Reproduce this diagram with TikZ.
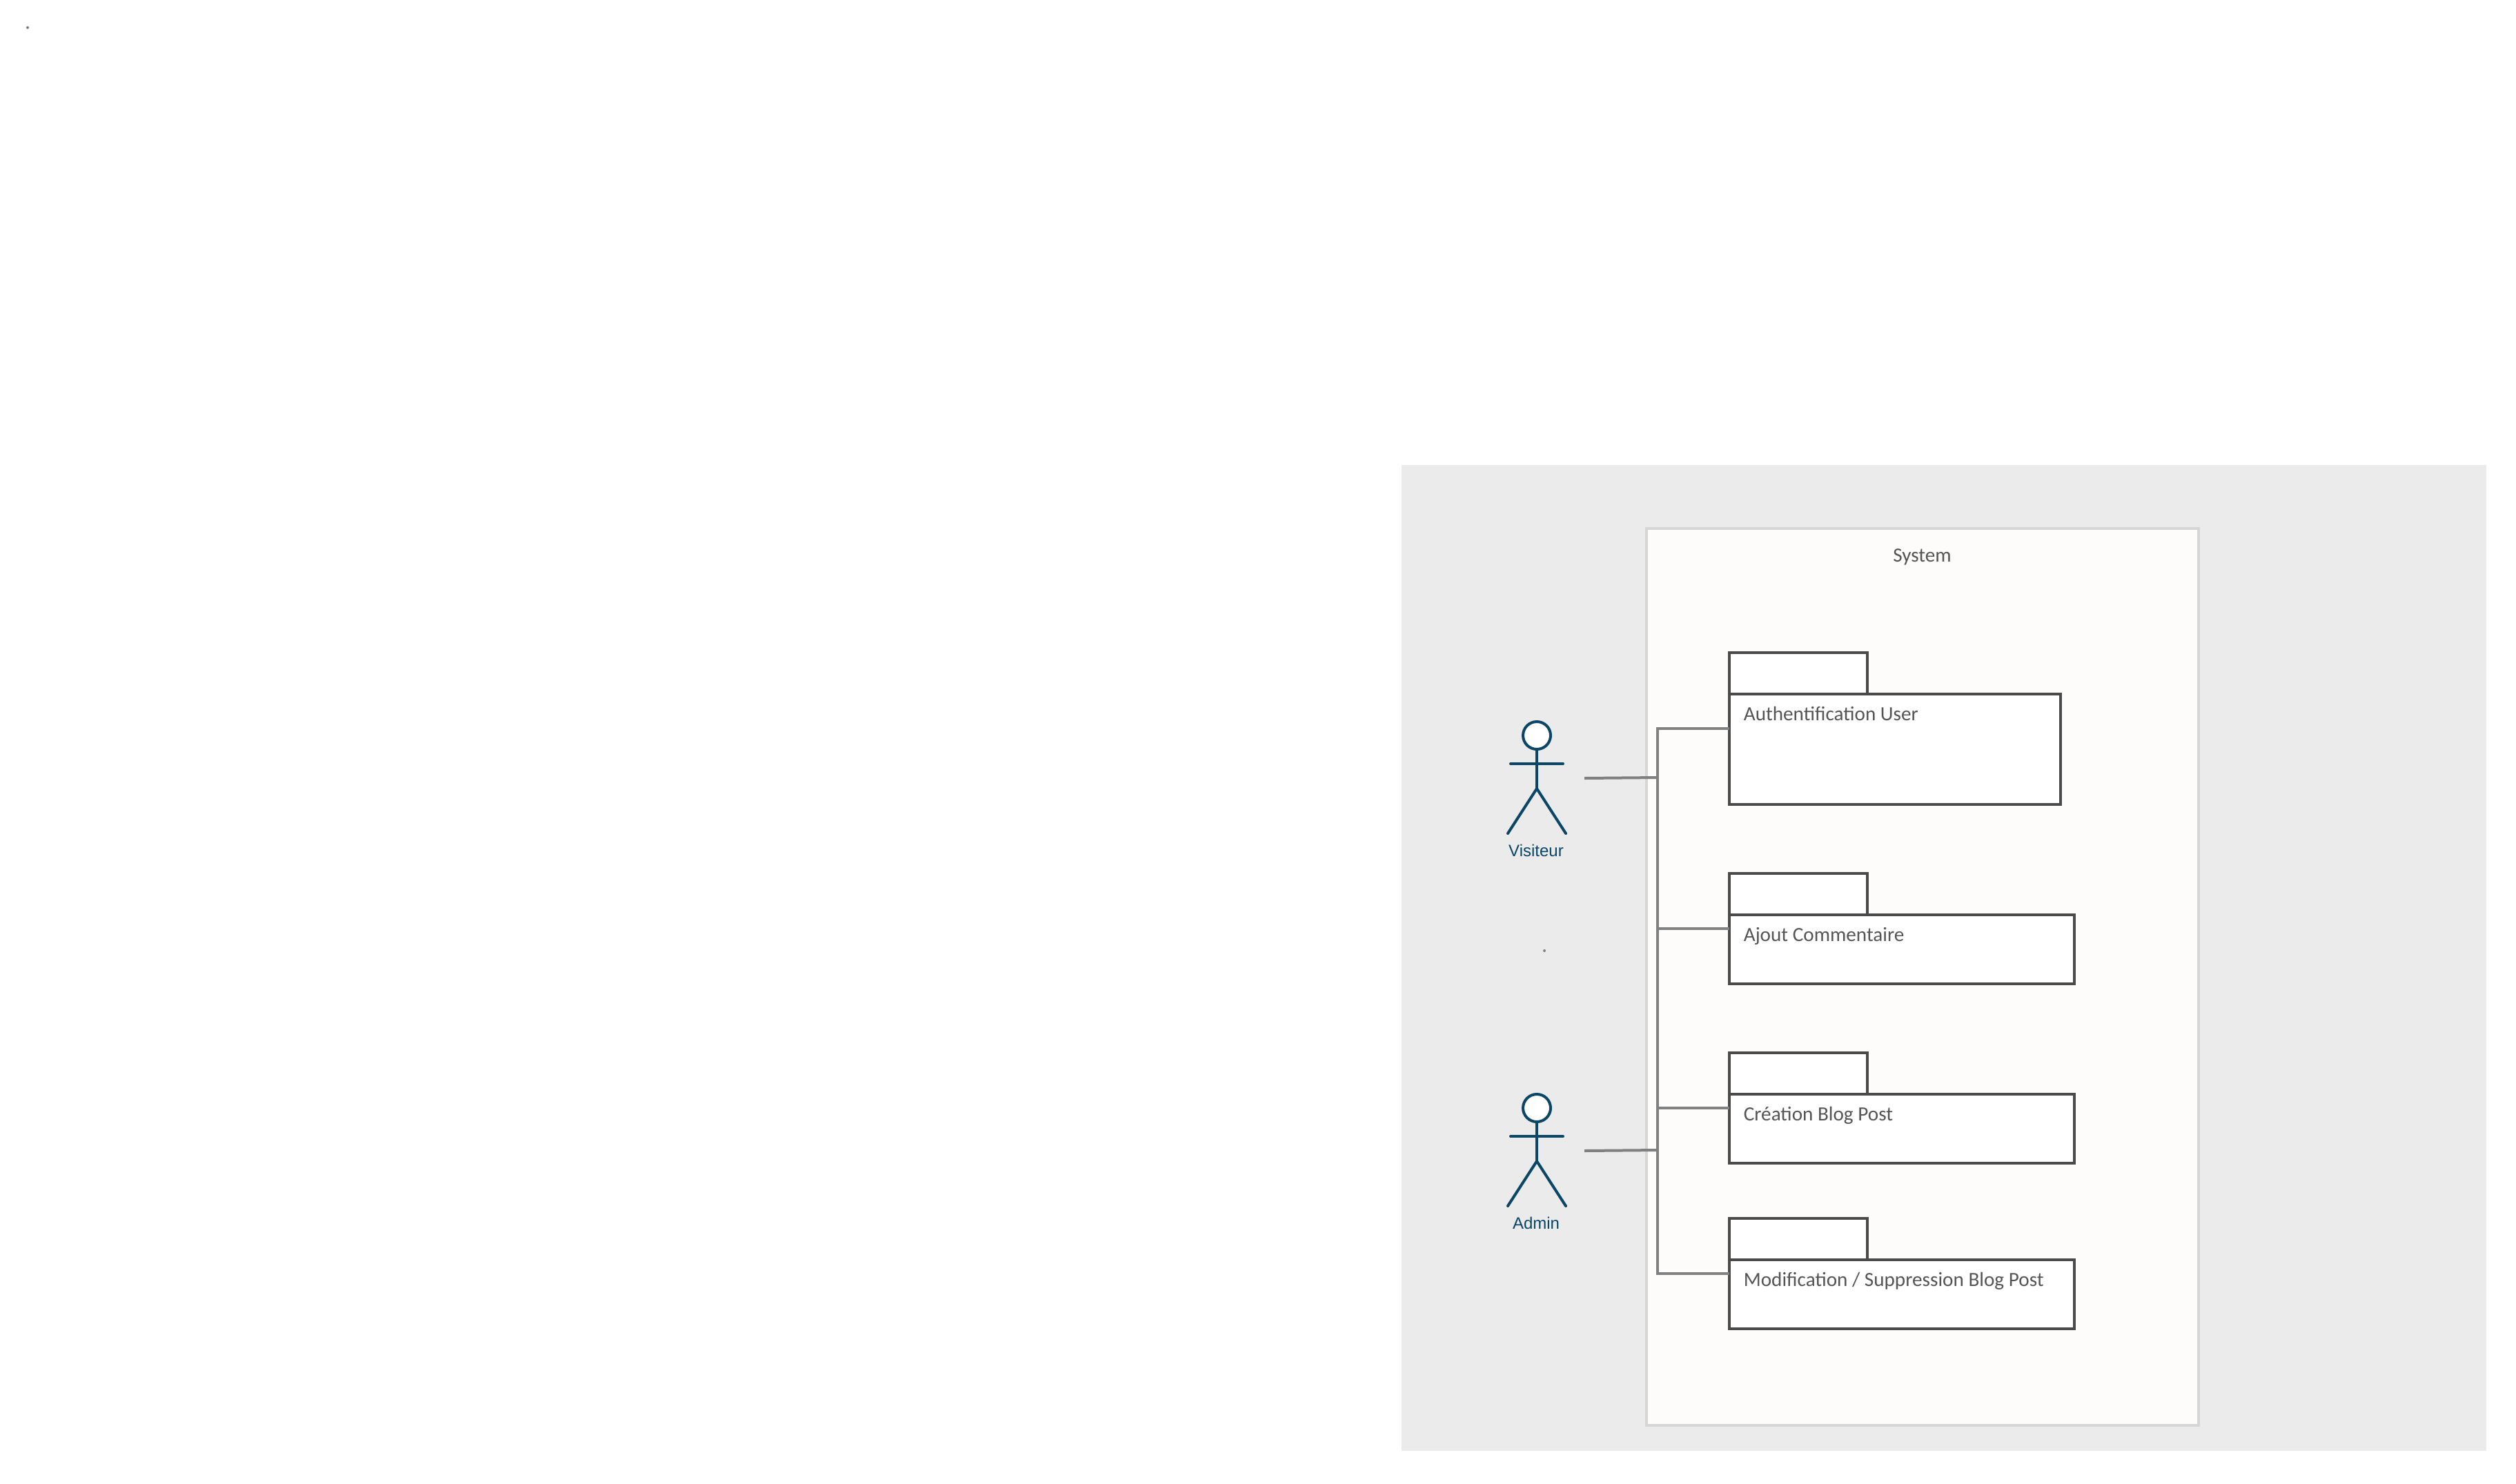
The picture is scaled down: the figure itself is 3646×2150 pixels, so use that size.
\documentclass[tikz,border=0pt]{standalone}
\usepackage{fontspec}
\setmainfont{Carlito}
\newfontfamily\actorfont{Liberation Sans}
\usetikzlibrary{calc}
\definecolor{pagegrey}{HTML}{EBEBEB}
\definecolor{sysfill}{HTML}{FDFCFB}
\definecolor{sysline}{HTML}{D6D6D6}
\definecolor{pkgline}{HTML}{4A4A4A}
\definecolor{pkgink}{HTML}{555555}
\definecolor{connline}{HTML}{808080}
\definecolor{actorblue}{HTML}{0A4666}
\tikzset{
  boxbase/.style={rectangle,draw,line width=1pt,inner sep=0pt,outer sep=0pt,anchor=north west},
  sysbox/.style={boxbase,draw=sysline,fill=sysfill},
  pkgbox/.style={boxbase,draw=pkgline,fill=white},
  pkgtext/.style={anchor=base west,inner sep=0pt,text=pkgink,font=\fontsize{7.3}{9}\selectfont},
  conn/.style={draw=connline,line width=1pt},
  actorline/.style={draw=actorblue,line width=1pt,line cap=round},
  actorname/.style={anchor=base,inner sep=0pt,text=actorblue,font=\actorfont\fontsize{6}{7}\selectfont},
  speck/.style={circle,fill=connline,inner sep=0pt,minimum size=1pt}
}
\begin{document}
\begin{tikzpicture}[x=0.25pt,y=-0.25pt]

    \useasboundingbox (0,0) rectangle (3646,2150);

    % shade region
    \node[rectangle,fill=pagegrey,inner sep=0pt,anchor=north west,minimum width=1572*0.25pt,minimum height=1429*0.25pt] (page) at (2030,673) {};
    \node[speck] (speckA) at (40,40) {};
    \node[speck] (speckB) at (2238,1378) {};

    % system box
    \node[sysbox,minimum width=800*0.25pt,minimum height=1300*0.25pt] (system) at (2386,766) {};
    \node[pkgtext,anchor=base] (systemtext) at (2785.5,814) {System};

    % packages
    \foreach \pkg/\ytab/\wbody/\hbody/\yport/\txt in {
        auth/946/480/160/50/{Authentification User},
        ajout/1266/500/100/20/{Ajout Commentaire},
        creation/1526/500/100/20/{Création Blog Post},
        modif/1766/500/100/20/{Modification / Suppression Blog Post}} {
      \node[pkgbox,minimum width=200*0.25pt,minimum height=60*0.25pt] (\pkg tab) at (2506,\ytab) {};
      \node[pkgbox,minimum width=\wbody*0.25pt,minimum height=\hbody*0.25pt] (\pkg) at (2506,\ytab+60) {};
      \node[pkgtext] (\pkg text) at (2526,\ytab+98) {\txt};
      \coordinate (\pkg port) at (2506,\ytab+60+\yport);
      \coordinate (\pkg spine) at (2402,\ytab+60+\yport);
    }

    % actors
    \foreach \act/\yact/\txt in {visiteur/0/Visiteur,admin/540/Admin} {
      \node[circle,draw=actorblue,fill=white,line width=1pt,inner sep=0pt,outer sep=0pt,minimum size=40*0.25pt] (\act head) at (2227,1066+\yact) {};
      \coordinate (\act hip) at (2227,1143+\yact);
      \coordinate (\act armL) at (2189,1107+\yact);
      \coordinate (\act armR) at (2265,1107+\yact);
      \coordinate (\act footL) at (2185,1208+\yact);
      \coordinate (\act footR) at (2269,1208+\yact);
      \draw[actorline] (\act head.south) -- (\act hip);
      \draw[actorline] (\act armL) -- (\act armR);
      \draw[actorline] (\act footL) -- (\act hip) -- (\act footR);
      \node[actorname] (\act text) at (2226,1241+\yact) {\txt};
      \coordinate (\act start) at (2296,1128+\yact);
      \coordinate (\act spine) at (2402,1127+\yact);
      \draw[conn] (\act start) -- (\act spine);
    }

    % connectors
    \draw[conn] (authport) -- (authspine) -- (modifspine) -- (modifport);
    \foreach \pkg in {ajout,creation}
      \draw[conn] (\pkg spine) -- (\pkg port);

\end{tikzpicture}
\end{document}
